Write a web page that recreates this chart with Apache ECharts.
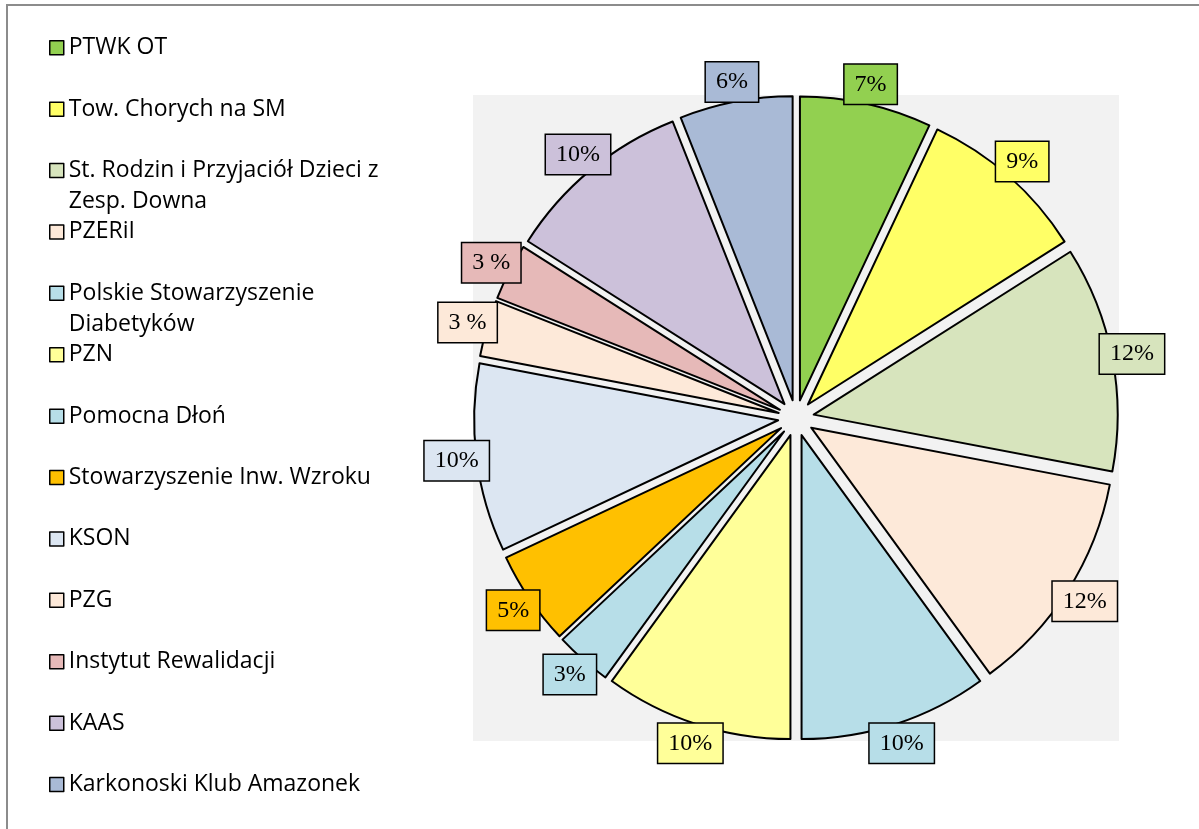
<!DOCTYPE html>
<html>
<head>
<meta charset="utf-8">
<script src="https://cdn.jsdelivr.net/npm/echarts@6/dist/echarts.min.js"></script>
<style>
  html, body { margin: 0; padding: 0; background: #fff; }
  #chart { width: 1199px; height: 829px; }
</style>
</head>
<body>
<div id="chart"></div>
<script>
// organizacje (legenda) i ich udział w %
const names = ['PTWK OT', 'Tow. Chorych na SM', 'St. Rodzin i Przyjaciół Dzieci z Zesp. Downa', 'PZERiI',
  'Polskie Stowarzyszenie Diabetyków', 'PZN', 'Pomocna Dłoń', 'Stowarzyszenie Inw. Wzroku',
  'KSON', 'PZG', 'Instytut Rewalidacji', 'KAAS', 'Karkonoski Klub Amazonek']
const values = [7, 9, 12, 12, 10, 10, 3, 5, 10, 3, 3, 10, 6]
// etykiety tak jak na oryginale (dwie ze spacją)
const labelTexts = ['7%', '9%', '12%', '12%', '10%', '10%', '3%', '5%', '10%', '3 %', '3 %', '10%', '6%']
// łamanie długich nazw w legendzie
const legendTexts = ['PTWK OT', 'Tow. Chorych na SM', 'St. Rodzin i Przyjaciół Dzieci z\nZesp. Downa', 'PZERiI',
  'Polskie Stowarzyszenie\nDiabetyków', 'PZN', 'Pomocna Dłoń', 'Stowarzyszenie Inw. Wzroku',
  'KSON', 'PZG', 'Instytut Rewalidacji', 'KAAS', 'Karkonoski Klub Amazonek']
const colors = ['#92D050', '#FFFF66', '#D7E4BD', '#FDE9D9', '#B7DEE8', '#FFFF99', '#B7DEE8',
  '#FFC000', '#DCE6F2', '#FDE9D9', '#E6B9B8', '#CCC1DA', '#A9BAD6']

const cx = 796, cy = 418, R = 304
const chart = echarts.init(document.getElementById('chart'))

const pieData = names.map((n, i) => ({
  name: n,
  value: values[i],
  selected: true,
  itemStyle: { color: colors[i] }
}))
const labelData = names.map((n, i) => ({
  name: n,
  value: values[i],
  label: { backgroundColor: colors[i] }
}))

chart.setOption({
  animation: false,
  graphic: [
    { type: 'rect', z: 0, shape: { x: cx - 323, y: cy - 323, width: 646, height: 646 }, style: { fill: '#F2F2F2' } },
    { type: 'polyline', z: 0, shape: { points: [[7, 829], [7, 5], [1199, 5]] }, style: { stroke: '#8C8C8C', lineWidth: 2, fill: null } }
  ],
  legend: {
    orient: 'vertical',
    left: 49,
    top: 31.5,
    height: 825,
    padding: 0,
    itemGap: -2.1,
    itemWidth: 14,
    itemHeight: 62,
    // kwadrat w górnej części wysokiego pola ikony, żeby stał przy pierwszej linii tekstu
    icon: 'path://M0,0M0,62M0,8.5h14v14h-14z',
    itemStyle: { borderColor: '#000', borderWidth: 1.5 },
    selectedMode: false,
    formatter: name => {
      const t = legendTexts[names.indexOf(name)]
      return t.indexOf('\n') >= 0 ? t : t + '\n '
    },
    textStyle: { fontFamily: 'Open Sans', fontSize: 23, color: '#000', lineHeight: 31 },
    data: names
  },
  series: [
    {
      type: 'pie',
      center: [cx, cy],
      radius: [0, R],
      startAngle: 90,
      clockwise: true,
      selectedMode: 'multiple',
      selectedOffset: 18,
      label: { show: false },
      labelLine: { show: false },
      itemStyle: { borderColor: '#000', borderWidth: 2 },
      emphasis: { disabled: true },
      select: { itemStyle: { borderColor: '#000', borderWidth: 2 } },
      data: pieData
    },
    {
      // niewidoczny pierścień tylko do rozmieszczenia etykiet
      type: 'pie',
      center: [cx, cy],
      radius: [316, 362],
      startAngle: 90,
      silent: true,
      selectedMode: false,
      itemStyle: { color: 'rgba(0,0,0,0)', borderWidth: 0 },
      emphasis: { disabled: true },
      labelLine: { show: false },
      label: {
        show: true,
        position: 'inside',
        formatter: p => labelTexts[p.dataIndex],
        fontFamily: 'Liberation Serif',
        fontSize: 24,
        color: '#000',
        borderColor: '#000',
        borderWidth: 1.5,
        padding: [8, 10, 7, 10]
      },
      data: labelData
    }
  ]
})
</script>
</body>
</html>
